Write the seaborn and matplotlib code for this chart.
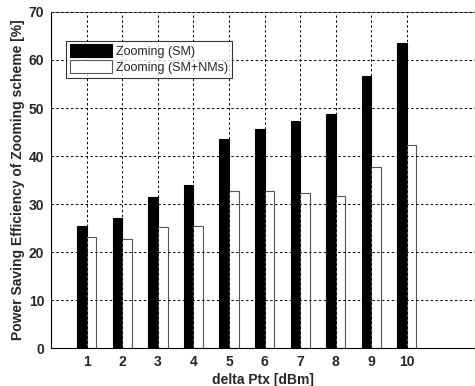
import matplotlib
matplotlib.use("Agg")
import matplotlib.pyplot as plt
import seaborn as sns
import pandas as pd

# values
delta_ptx = [1, 2, 3, 4, 5, 6, 7, 8, 9, 10]
zooming_sm = [25.5, 27.0, 31.4, 34.0, 43.6, 45.7, 47.3, 48.8, 56.6, 63.5]
zooming_sm_nms = [23.1, 22.7, 25.2, 25.5, 32.7, 32.8, 32.3, 31.7, 37.7, 42.3]
series_names = ["Zooming (SM)", "Zooming (SM+NMs)"]

df = pd.DataFrame({
    "delta": delta_ptx * 2,
    "value": zooming_sm + zooming_sm_nms,
    "series": [series_names[0]] * len(delta_ptx) + [series_names[1]] * len(delta_ptx),
})

sns.set_style("white")
plt.rcParams["font.family"] = ["Liberation Sans", "DejaVu Sans"]

fig = plt.figure(figsize=(4.75, 3.86), dpi=100)
ax = fig.add_axes([0.108, 0.098, 0.892, 0.871])

sns.barplot(data=df, x="delta", y="value", hue="series",
            palette=["black", "white"], width=0.54, gap=0,
            edgecolor="black", linewidth=0.8, ax=ax)

# white bars get a grey outline like the original
n = len(delta_ptx)
for p in ax.patches[n:2 * n]:
    p.set_edgecolor("#555555")

ax.set_xlim(-1, 10.92)
ax.set_ylim(0, 70)
ax.set_yticks(range(0, 71, 10))
ax.set_xticks(range(n))
ax.set_xticklabels([str(d) for d in delta_ptx])

for lbl in ax.get_xticklabels() + ax.get_yticklabels():
    lbl.set_fontweight("bold")
    lbl.set_fontsize(10)
ax.tick_params(axis="both", length=0, pad=5)

ax.grid(True, color="black", linestyle=(0, (2.5, 2.5)), linewidth=0.7)
ax.set_axisbelow(False)

ax.spines["right"].set_visible(False)
ax.spines["top"].set_color("#777777")
ax.spines["left"].set_color("black")
ax.spines["bottom"].set_color("black")

ax.set_xlabel("delta Ptx [dBm]", fontsize=10, fontweight="bold", labelpad=3)
ax.set_ylabel("Power Saving Efficiency of Zooming scheme [%]", fontsize=10,
              fontweight="bold", labelpad=3)

leg = ax.legend(loc="upper left", bbox_to_anchor=(0.035, 0.915),
                fontsize=9, frameon=True, fancybox=False, borderpad=0.3,
                handlelength=3.4, handleheight=1.2, labelspacing=0.2,
                handletextpad=0.3, borderaxespad=0)
leg.get_frame().set_edgecolor("black")
leg.get_frame().set_linewidth(0.8)
leg.legend_handles[1].set_edgecolor("#555555")

fig.savefig("out.png", dpi=100)
